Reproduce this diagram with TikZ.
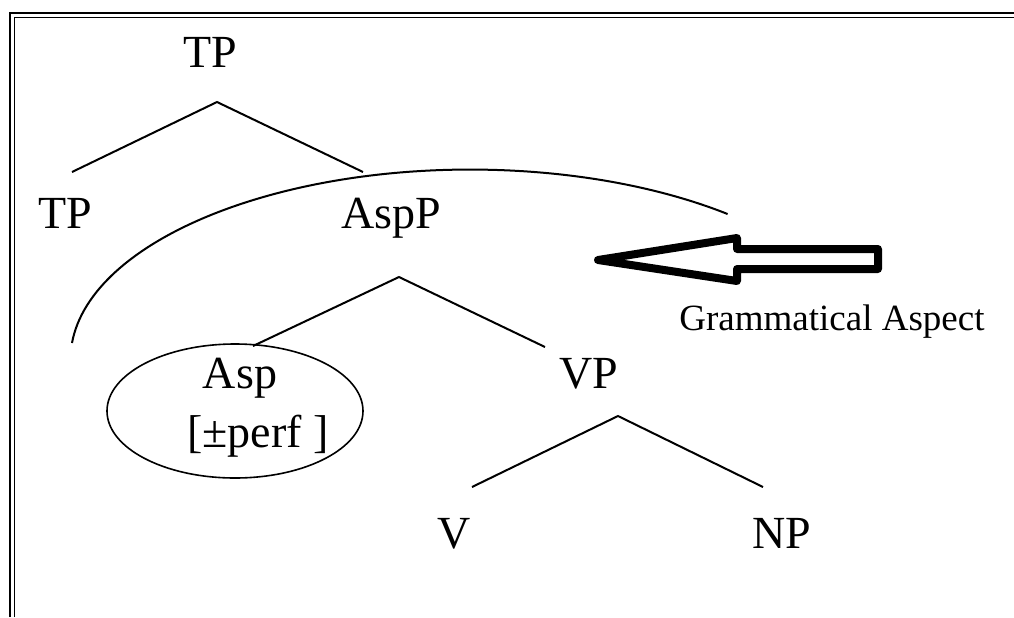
\documentclass[tikz,border=0pt]{standalone}
\usepackage{fontspec}
\setmainfont{Liberation Serif}
\usetikzlibrary{shapes.geometric}
\begin{document}
\begin{tikzpicture}[x=0.5pt,y=-0.5pt,
  lbl/.style={anchor=base,inner sep=0pt,font=\fontsize{23}{27}\selectfont},
  small/.style={anchor=base,inner sep=0pt,font=\fontsize{18.5}{22}\selectfont},
  branch/.style={line width=1pt},
  frameline/.style={line width=0.8pt},
  hollowarrow/.style={line width=4pt,line join=round}]
\useasboundingbox (0,0) rectangle (1014,617);

% double frame running off the right and bottom edges
\draw[frameline] (10,617) -- (10,13) -- (1014,13);
\draw[frameline] (14.5,617) -- (14.5,17.5) -- (1014,17.5);

% category labels
\node[lbl] (tp0) at (210,67) {TP};
\node[lbl] (tp1) at (65,228) {TP};
\node[lbl] (aspp) at (391,228) {AspP};
\node[lbl] (asp) at (240,388) {Asp};
\node[lbl] (feat) at (258,447) {[±perf ]};
\node[lbl] (vp) at (589,388) {VP};
\node[lbl] (v) at (454,548) {V};
\node[lbl] (np) at (782,548) {NP};
\node[small] (ga) at (832,330) {Grammatical Aspect};

% ellipse around the Asp head
\node[draw,ellipse,line width=0.8pt,minimum width=128pt,minimum height=67pt,inner sep=0pt] (aspring) at (235,411) {};

% branch end points
\coordinate (tp0b) at (217,102);
\coordinate (tp1t) at (72,172);
\coordinate (asppt) at (363,172);
\coordinate (asppb) at (399,277);
\coordinate (aspt) at (253,346);
\coordinate (vpt) at (545,347);
\coordinate (vpb) at (618,416);
\coordinate (vt) at (472,487);
\coordinate (npt) at (763,487);

\draw[branch] (tp1t) -- (tp0b) -- (asppt);
\draw[branch] (aspt) -- (asppb) -- (vpt);
\draw[branch] (vt) -- (vpb) -- (npt);

% arc marking the aspect domain
\coordinate (arcstart) at (72,343);
\draw[branch] (arcstart) arc[start angle=175,end angle=50,x radius=200pt,y radius=95pt];

% hollow block arrow
\coordinate (tip) at (598,260);
\draw[hollowarrow] (tip) -- (737,238) -- (737,249) -- (878,249) -- (878,269)
  -- (737,269) -- (737,281) -- cycle;
\end{tikzpicture}
\end{document}
